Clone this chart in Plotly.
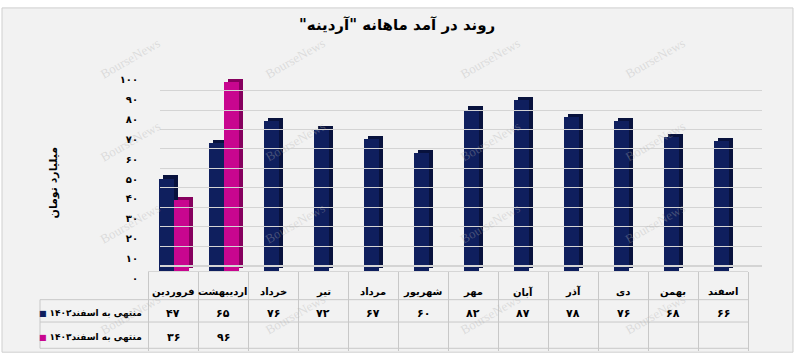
import plotly.graph_objects as go

# ---------------- data ----------------
months = ["فروردین", "اردیبهشت", "خرداد", "تیر", "مرداد", "شهریور",
          "مهر", "آبان", "آذر", "دی", "بهمن", "اسفند"]
series1_name = "منتهی به اسفند۱۴۰۲"
series2_name = "منتهی به اسفند۱۴۰۳"
series1 = [47, 65, 76, 72, 67, 60, 82, 87, 78, 76, 68, 66]
series2 = [36, 96, None, None, None, None, None, None, None, None, None, None]
ytick_vals = [0, 10, 20, 30, 40, 50, 60, 70, 80, 90, 100]
title_text = 'روند در آمد ماهانه "آردینه"'
ytitle_text = "میلیارد تومان"

# ---------------- helpers ----------------
FA = str.maketrans("0123456789", "۰۱۲۳۴۵۶۷۸۹")
def fa(v):
    return "" if v is None else str(v).translate(FA)

RLM = "\u200f"
W, H = 795, 364
def px(x):
    return x / W
def py(y):
    return 1 - y / H

FONT = "DejaVu Sans"
BG = "#f2f2f2"
LINE = "#c8c8c8"
NAVY, NAVY_SIDE = "#0f1f5e", "#08123d"
MAG, MAG_SIDE = "#c8068f", "#86005e"

FW = 0.30      # front width (category units)
DX = 0.085     # depth shift x
DY = 1.6       # depth shift y (data units)

pair = [v is not None for v in series2]
off1 = [-0.28 if p else -0.19 for p in pair]
off2 = [0.02 for _ in pair]

fig = go.Figure()

# back wall grid (separate subplot, shifted up/right for 3D feel)
fig.add_trace(go.Scatter(x=[], y=[], xaxis="x2", yaxis="y2", showlegend=False, hoverinfo="skip"))
# tick-label axis (front edge of the 3D floor, slightly lower)
fig.add_trace(go.Scatter(x=[], y=[], xaxis="x2", yaxis="y3", showlegend=False, hoverinfo="skip"))

def add_series(vals, offs, front, side):
    fig.add_trace(go.Bar(
        x=months, y=vals, base=DY, offset=[o + DX for o in offs], width=FW,
        marker=dict(color=side, line=dict(width=0)), showlegend=False, hoverinfo="skip"))
    fig.add_trace(go.Bar(
        x=months, y=vals, offset=offs, width=FW,
        marker=dict(color=front, line=dict(width=0)), showlegend=False, hoverinfo="skip"))

add_series(series1, off1, NAVY, NAVY_SIDE)
add_series(series2, off2, MAG, MAG_SIDE)

def ann(text, x, y, xref="paper", size=10, **kw):
    d = dict(text=text, x=x, y=y, xref=xref, yref="paper", showarrow=False,
             yanchor="middle", font=dict(family=FONT, size=size, color="black"))
    d.update(kw)
    return d

annotations = [
    ann(f"<b>{RLM}{title_text}{RLM}</b>", px(397), py(21), size=15, xanchor="center"),
    ann(f"<b>{ytitle_text}</b>", px(45), py(183), size=11, textangle=-90),
]

# data table: month row, value rows, row labels
for m in months:
    annotations.append(ann(f"<b>{m}</b>", m, py(295), xref="x", size=10))
for m, a, b in zip(months, series1, series2):
    for v, yy in ((a, 317), (b, 342)):
        if v is not None:
            annotations.append(ann(f"<b>{fa(v)}</b>", m, py(yy), xref="x", size=11))
for name, col, yy in ((series1_name, NAVY, 317), (series2_name, MAG, 342)):
    annotations.append(ann(
        f"<span style='color:{col};font-size:8px'>■</span> <b>{RLM}{name}{RLM}</b>",
        px(144), py(yy), xanchor="right", size=9))

# watermarks
for wx in [95, 295, 490, 690]:
    for wy in [55, 140, 225, 318]:
        annotations.append(dict(text="BourseNews", x=px(wx), y=py(wy), xref="paper", yref="paper",
                                showarrow=False, textangle=-30, yanchor="middle",
                                font=dict(family="Liberation Serif", size=13,
                                          color="rgba(175,175,175,0.35)")))

shapes = [dict(type="rect", xref="paper", yref="paper", x0=px(2), x1=px(793),
               y0=py(357), y1=py(3), fillcolor=BG, line=dict(color="#cfcfcf", width=1),
               layer="below")]
for yy in (303, 326, 353):
    shapes.append(dict(type="line", xref="paper", yref="paper", x0=px(40), x1=px(748),
                       y0=py(yy), y1=py(yy), line=dict(color=LINE, width=1)))
shapes.append(dict(type="line", xref="paper", yref="paper", x0=px(40), x1=px(40),
                   y0=py(303), y1=py(353), line=dict(color=LINE, width=1)))

fig.update_layout(
    width=W, height=H,
    margin=dict(l=0, r=0, t=0, b=0),
    paper_bgcolor="white",
    plot_bgcolor="rgba(0,0,0,0)",
    barmode="overlay",
    bargap=0,
    showlegend=False,
    xaxis=dict(domain=[px(148), px(748)], tickson="boundaries", ticks="outside", ticklen=79,
               tickcolor=LINE, tickwidth=1, showline=True, linecolor="#d6d6d6",
               showgrid=False, showticklabels=False, fixedrange=True,
               categoryorder="array", categoryarray=months),
    yaxis=dict(domain=[py(274), py(71)], range=[0, 100], showgrid=False, zeroline=False,
               showticklabels=False, ticks="", fixedrange=True),
    xaxis2=dict(domain=[px(160), px(762)], anchor="y2", range=[0, 1], showgrid=False,
                showticklabels=False, zeroline=False, showline=False, ticks=""),
    yaxis2=dict(domain=[py(268), py(68)], anchor="x2", range=[0, 100], dtick=10,
                showgrid=True, gridcolor="#d4d4d4", gridwidth=1, showticklabels=False,
                zeroline=True, zerolinecolor="#d4d4d4", ticks=""),
    yaxis3=dict(domain=[py(281), py(77)], anchor="free", position=px(138), range=[0, 100],
                tickvals=ytick_vals, ticktext=[f"<b>{fa(v)}</b>" for v in ytick_vals],
                showgrid=False, zeroline=False, showline=False, ticks="",
                tickfont=dict(family=FONT, size=10, color="black"), fixedrange=True),
    shapes=shapes,
    annotations=annotations,
)

fig.write_html("out.html")
